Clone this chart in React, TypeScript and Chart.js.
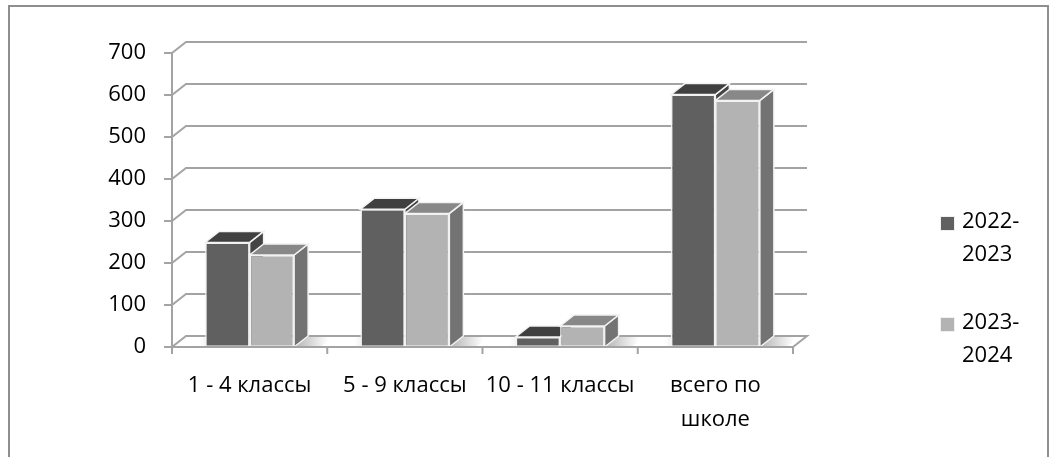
import React, { useEffect, useRef } from 'react';
import { Chart, registerables } from 'chart.js';

Chart.register(...registerables);

// ---- data ----
const categories: (string | string[])[] = ['1 - 4 классы', '5 - 9 классы', '10 - 11 классы', ['всего по', 'школе']];
const seriesLabels = ['2022-2023', '2023-2024'];
const legendLines = [['2022-', '2023'], ['2023-', '2024']];
const values2022 = [249, 328, 24, 601];
const values2023 = [219, 318, 50, 587];
const Y_MIN = 0;
const Y_MAX = 700;
const Y_STEP = 100;

// ---- style ----
const FONT = "'Open Sans', 'Noto Sans', sans-serif";
const FONT_SIZE = 22;
const DX = 14;
const DY = -11;
const EDGE = '#f2f2f2';
const GRID = '#a3a3a3';
const faces = [
  { front: '#606060', top: '#404040', side: '#444444' },
  { front: '#b3b3b3', top: '#888888', side: '#737373' },
];

function poly(ctx: CanvasRenderingContext2D, pts: number[][], fill: string) {
  ctx.beginPath();
  ctx.moveTo(pts[0][0], pts[0][1]);
  for (let i = 1; i < pts.length; i++) ctx.lineTo(pts[i][0], pts[i][1]);
  ctx.closePath();
  ctx.fillStyle = fill;
  ctx.fill();
  ctx.strokeStyle = EDGE;
  ctx.lineWidth = 1.5;
  ctx.stroke();
}

const threeD = {
  id: 'threeD',
  beforeDatasetsDraw(chart: any) {
    const { ctx, chartArea, scales } = chart;
    const ys = scales.y;
    const { left, right } = chartArea;
    const base = ys.getPixelForValue(Y_MIN);
    const n = chart.data.labels.length;
    const nd = chart.data.datasets.length;
    ctx.save();
    // floor shadows
    for (let i = 0; i < n; i++) {
      const last = chart.getDatasetMeta(nd - 1).data[i].getProps(['x', 'width'], true);
      const first = chart.getDatasetMeta(0).data[i].getProps(['x', 'width'], true);
      const r = last.x + last.width / 2;
      const l = first.x - first.width / 2;
      const g = ctx.createLinearGradient(r, 0, r + 34, 0);
      g.addColorStop(0, 'rgba(0,0,0,0.30)');
      g.addColorStop(1, 'rgba(0,0,0,0)');
      ctx.fillStyle = g;
      ctx.beginPath();
      ctx.moveTo(r, base);
      ctx.lineTo(r + DX, base + DY);
      ctx.lineTo(r + DX + 30, base + DY);
      ctx.lineTo(r + 26, base);
      ctx.closePath();
      ctx.fill();
      const g2 = ctx.createLinearGradient(l + DX, 0, l + DX - 20, 0);
      g2.addColorStop(0, 'rgba(0,0,0,0.15)');
      g2.addColorStop(1, 'rgba(0,0,0,0)');
      ctx.fillStyle = g2;
      ctx.beginPath();
      ctx.moveTo(l, base);
      ctx.lineTo(l + DX, base + DY);
      ctx.lineTo(l + DX - 20, base + DY);
      ctx.lineTo(l - 14, base);
      ctx.closePath();
      ctx.fill();
    }
    // back wall grid lines + side wall diagonals
    ctx.strokeStyle = GRID;
    ctx.lineWidth = 2;
    ys.ticks.forEach((t: any) => {
      const py = ys.getPixelForValue(t.value);
      ctx.beginPath();
      ctx.moveTo(left, py);
      ctx.lineTo(left + DX, py + DY);
      ctx.lineTo(right + DX, py + DY);
      if (t.value === Y_MIN) ctx.lineTo(right, py);
      ctx.stroke();
    });
    // bar tops and sides
    for (let i = 0; i < n; i++) {
      for (let d = 0; d < nd; d++) {
        const p = chart.getDatasetMeta(d).data[i].getProps(['x', 'y', 'base', 'width'], true);
        const l = p.x - p.width / 2;
        const r = p.x + p.width / 2;
        const ty = p.y;
        const by = p.base;
        const f = faces[d % faces.length];
        poly(ctx, [[r, ty], [r + DX, ty + DY], [r + DX, by + DY], [r, by]], f.side);
        poly(ctx, [[l, ty], [r, ty], [r + DX, ty + DY], [l + DX, ty + DY]], f.top);
      }
    }
    ctx.restore();
  },
  afterDatasetsDraw(chart: any) {
    const { ctx, chartArea, scales } = chart;
    const xs = scales.x;
    const ys = scales.y;
    const { left, right, top } = chartArea;
    const base = ys.getPixelForValue(Y_MIN);
    const n = chart.data.labels.length;
    ctx.save();
    ctx.strokeStyle = GRID;
    ctx.lineWidth = 2;
    ctx.beginPath();
    ctx.moveTo(left, top);
    ctx.lineTo(left, base);
    ctx.lineTo(right, base);
    ys.ticks.forEach((t: any) => {
      const py = ys.getPixelForValue(t.value);
      ctx.moveTo(left - 8, py);
      ctx.lineTo(left, py);
    });
    const band = n > 1 ? xs.getPixelForValue(1) - xs.getPixelForValue(0) : right - left;
    for (let i = 0; i <= n; i++) {
      const px = xs.getPixelForValue(Math.min(i, n - 1)) + (i === n ? band / 2 : -band / 2);
      ctx.moveTo(px, base);
      ctx.lineTo(px, base + 7);
    }
    ctx.stroke();
    ctx.restore();
  },
  afterDraw(chart: any) {
    const { ctx } = chart;
    ctx.save();
    ctx.font = `${FONT_SIZE}px ${FONT}`;
    ctx.textBaseline = 'middle';
    ctx.textAlign = 'left';
    chart.data.datasets.forEach((ds: any, i: number) => {
      const y0 = 222 + i * 101;
      ctx.fillStyle = ds.backgroundColor;
      ctx.strokeStyle = '#f0f0f0';
      ctx.lineWidth = 1;
      ctx.fillRect(941, y0 - 5, 13, 13);
      ctx.strokeRect(940.5, y0 - 5.5, 14, 14);
      ctx.fillStyle = '#000';
      legendLines[i].forEach((line, k) => {
        ctx.fillText(line, 962, y0 + k * 33);
      });
    });
    ctx.restore();
  },
};

export default function App() {
  const ref = useRef<HTMLCanvasElement | null>(null);
  useEffect(() => {
    if (!ref.current) return;
    const chart = new Chart(ref.current, {
      type: 'bar',
      data: {
        labels: categories as any,
        datasets: [
          {
            label: seriesLabels[0],
            data: values2022,
            backgroundColor: faces[0].front,
            borderColor: EDGE,
            borderWidth: 1.5,
            borderSkipped: false,
            categoryPercentage: 0.573,
            barPercentage: 1,
          },
          {
            label: seriesLabels[1],
            data: values2023,
            backgroundColor: faces[1].front,
            borderColor: EDGE,
            borderWidth: 1.5,
            borderSkipped: false,
            categoryPercentage: 0.573,
            barPercentage: 1,
          },
        ],
      },
      options: {
        responsive: false,
        animation: false,
        devicePixelRatio: 1,
        layout: { padding: { top: 53, right: 262, left: 0, bottom: 0 } },
        plugins: {
          legend: { display: false },
          tooltip: { enabled: false },
        },
        scales: {
          x: {
            grid: { display: false, drawTicks: false },
            border: { display: false },
            ticks: {
              color: '#000',
              font: { family: FONT, size: FONT_SIZE, lineHeight: 1.57 },
              padding: 21,
              maxRotation: 0,
              autoSkip: false,
            },
            afterFit: (s: any) => {
              s.height = 110;
            },
          },
          y: {
            min: Y_MIN,
            max: Y_MAX,
            grid: { display: false, drawTicks: false },
            border: { display: false },
            ticks: {
              stepSize: Y_STEP,
              color: '#000',
              font: { family: FONT, size: FONT_SIZE },
              padding: 26,
            },
            afterFit: (s: any) => {
              s.width = 172;
            },
          },
        },
      },
      plugins: [threeD],
    });
    return () => chart.destroy();
  }, []);

  return (
    <div style={{ position: 'fixed', left: 0, top: 0, width: 1055, height: 457, overflow: 'hidden', background: '#fff' }}>
      <div
        style={{
          position: 'absolute',
          left: 8,
          top: 5,
          width: 1037,
          height: 520,
          border: '2px solid #8e8e8e',
          boxSizing: 'content-box',
        }}
      />
      <canvas ref={ref} width={1055} height={457} style={{ position: 'absolute', left: 0, top: 0, width: 1055, height: 457 }} />
    </div>
  );
}
